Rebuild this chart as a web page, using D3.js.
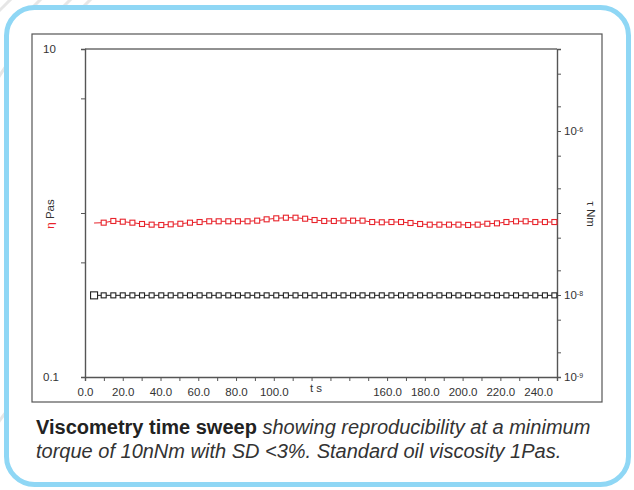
<!DOCTYPE html>
<html>
<head>
<meta charset="utf-8">
<script src="https://cdn.jsdelivr.net/npm/d3@7"></script>
<style>
  html, body { margin: 0; padding: 0; background: #fff; }
  svg { display: block; font-family: "Liberation Sans", Arial, Helvetica, sans-serif; }
</style>
</head>
<body>
<svg id="chart" width="634" height="490"></svg>
<script>
// ---------------- data ----------------
const times = [4.8, 9.9, 15.0, 20.0, 25.1, 30.2, 35.3, 40.4, 45.4, 50.5,
  55.6, 60.7, 65.8, 70.8, 75.9, 81.0, 86.1, 91.2, 96.2, 101.3,
  106.4, 111.5, 116.6, 121.6, 126.7, 131.8, 136.9, 142.0, 147.0, 152.1,
  157.2, 162.3, 167.4, 172.4, 177.5, 182.6, 187.7, 192.8, 197.8, 202.9,
  208.0, 213.1, 218.2, 223.2, 228.3, 233.4, 238.5, 243.6, 248.6];
// viscosity eta (Pa s), left axis
const viscosity = [0.869, 0.873, 0.894, 0.885, 0.873, 0.857, 0.849, 0.845, 0.853, 0.860,
  0.873, 0.881, 0.890, 0.890, 0.890, 0.890, 0.890, 0.898, 0.915, 0.928,
  0.936, 0.936, 0.923, 0.906, 0.894, 0.894, 0.898, 0.898, 0.898, 0.881,
  0.878, 0.881, 0.881, 0.869, 0.857, 0.849, 0.849, 0.849, 0.849, 0.845,
  0.849, 0.860, 0.865, 0.881, 0.890, 0.890, 0.881, 0.881, 0.881];
// torque tau (N m), right axis
const torque = [0.99e-8, 0.99e-8, 0.99e-8, 0.99e-8, 0.99e-8, 0.99e-8, 0.99e-8, 0.99e-8, 0.99e-8, 0.99e-8,
  0.99e-8, 0.99e-8, 0.99e-8, 0.99e-8, 0.99e-8, 0.99e-8, 0.99e-8, 0.99e-8, 0.99e-8, 0.99e-8,
  0.99e-8, 0.99e-8, 0.99e-8, 0.99e-8, 0.99e-8, 0.99e-8, 0.99e-8, 0.99e-8, 0.99e-8, 0.99e-8,
  0.99e-8, 0.99e-8, 0.99e-8, 0.99e-8, 0.99e-8, 0.99e-8, 0.99e-8, 0.99e-8, 0.99e-8, 0.99e-8,
  0.99e-8, 0.99e-8, 0.99e-8, 0.99e-8, 0.99e-8, 0.99e-8, 0.99e-8, 0.99e-8, 0.99e-8];

const xTicks = [0,10,20,30,40,50,60,70,80,90,100,110,120,130,140,150,160,170,180,190,200,210,220,230,240,250];
const xTickLabels = {0:"0.0",20:"20.0",40:"40.0",60:"60.0",80:"80.0",100:"100.0",
  160:"160.0",180:"180.0",200:"200.0",220:"220.0",240:"240.0"};
const xTitle = "t s";
const leftTicks = [0.1, 0.5, 1, 5, 10];
const leftTickLabels = {0.1: "0.1", 10: "10"};
const leftTitleSymbol = "η";
const leftTitleUnit = "Pas";
const rightTicks = [1e-9,2e-9,5e-9,1e-8,2e-8,5e-8,1e-7,2e-7,5e-7,1e-6,2e-6,5e-6,1e-5];
const rightTickLabels = [[1e-9,"-9"],[1e-8,"-8"],[1e-6,"-6"]];
const rightTitleSymbol = "τ";
const rightTitleUnit = "Nm";
const captionBold = "Viscometry time sweep";
const captionLine1 = " showing reproducibility at a minimum";
const captionLine2 = "torque of 10nNm with SD <3%. Standard oil viscosity 1Pas.";

// ---------------- drawing ----------------
const svg = d3.select("#chart");
const RED = "#e8232b", INK = "#333";

// faint decorative stripes outside the frame
const deco = svg.append("g").attr("stroke", "#e6e6e6").attr("stroke-width", 3);
[[-20,30,40,-30],[10,30,70,-30],[40,30,100,-30],[70,20,130,-40],[-30,120,10,60],[-30,460,15,400]].forEach(s=>{
  deco.append("line").attr("x1",s[0]).attr("y1",s[1]).attr("x2",s[2]).attr("y2",s[3]);
});

// rounded blue border
svg.append("rect").attr("x", 6.5).attr("y", 7.5).attr("width", 622).attr("height", 477)
  .attr("rx", 28).attr("fill", "#fff").attr("stroke", "#8fd7f5").attr("stroke-width", 5);

// gray chart frame
svg.append("rect").attr("x", 32).attr("y", 34).attr("width", 570).attr("height", 368)
  .attr("fill", "none").attr("stroke", "#555").attr("stroke-width", 1.2);

const x = d3.scaleLinear().domain([0, 250]).range([85, 557]);
const yL = d3.scaleLog().domain([0.1, 10]).range([377, 49]);
const yR = d3.scaleLog().domain([1e-9, 1e-5]).range([377, 49]);

// plot box top line
svg.append("line").attr("x1", 85).attr("x2", 557).attr("y1", 49).attr("y2", 49)
  .attr("stroke", "#222").attr("stroke-width", 1);

// bottom axis
const gx = svg.append("g").attr("transform", "translate(0,377)")
  .call(d3.axisBottom(x).tickValues(xTicks).tickSize(4).tickPadding(7)
    .tickFormat(d => xTickLabels[d] || ""));
// left axis
const gl = svg.append("g").attr("transform", "translate(85,0)")
  .call(d3.axisLeft(yL).tickValues(leftTicks).tickSize(4)
    .tickFormat(d => leftTickLabels[d] || ""));
gl.selectAll(".tick text").attr("text-anchor", "start").attr("x", 43 - 85);
// right axis
const gr = svg.append("g").attr("transform", "translate(557,0)")
  .call(d3.axisRight(yR).tickValues(rightTicks).tickSize(4).tickPadding(3).tickFormat(""));
gr.selectAll(".tick").each(function(d) {
  const lab = rightTickLabels.find(r => Math.abs(r[0] - d) / d < 1e-6);
  if (!lab) return;
  const t = d3.select(this).select("text");
  t.append("tspan").text("10");
  t.append("tspan").attr("dy", "-0.45em").attr("font-size", 7).text(lab[1]);
});

[gx, gl, gr].forEach(g => {
  g.select(".domain").attr("stroke", "#555").attr("stroke-width", 1.4);
  g.selectAll(".tick line").attr("stroke", "#555").attr("stroke-width", 1);
  g.selectAll("text").attr("font-size", 11.5).attr("fill", INK)
    .attr("font-family", "'Liberation Sans', Arial, sans-serif");
});

// axis titles
svg.append("text").attr("x", 316).attr("y", 392).attr("text-anchor", "middle")
  .attr("font-size", 11.5).attr("fill", INK).text(xTitle);

const lt = svg.append("text").attr("transform", "translate(54,214) rotate(-90)")
  .attr("text-anchor", "middle").attr("font-size", 11.5);
lt.append("tspan").attr("fill", RED).text(leftTitleSymbol);
lt.append("tspan").attr("fill", INK).text(" " + leftTitleUnit);

const rt = svg.append("text").attr("transform", "translate(587,214) rotate(90)")
  .attr("text-anchor", "middle").attr("font-size", 11.5).attr("fill", INK);
rt.append("tspan").text(rightTitleSymbol);
rt.append("tspan").text(" " + rightTitleUnit);

// series
const redData = times.map((t, i) => ({t, v: viscosity[i], i}));
const blackData = times.map((t, i) => ({t, v: torque[i], i}));

svg.append("path").datum(redData)
  .attr("d", d3.line().x(d => x(d.t)).y(d => yL(d.v)))
  .attr("fill", "none").attr("stroke", RED).attr("stroke-width", 1);
svg.append("path").datum(blackData)
  .attr("d", d3.line().x(d => x(d.t)).y(d => yR(d.v)))
  .attr("fill", "none").attr("stroke", "#222").attr("stroke-width", 1);

svg.append("g").selectAll("rect").data(redData.filter(d => d.i > 0)).join("rect")
  .attr("x", d => x(d.t) - 2.5).attr("y", d => yL(d.v) - 2.5)
  .attr("width", 5).attr("height", 5)
  .attr("fill", "#fff").attr("stroke", RED).attr("stroke-width", 1.1);

svg.append("g").selectAll("rect").data(blackData).join("rect")
  .attr("x", d => x(d.t) - (d.i === 0 ? 3.5 : 2.5))
  .attr("y", d => yR(d.v) - (d.i === 0 ? 3.5 : 2.5))
  .attr("width", d => d.i === 0 ? 7 : 5).attr("height", d => d.i === 0 ? 7 : 5)
  .attr("fill", "#fff").attr("stroke", "#222").attr("stroke-width", 1.1);

// caption
const c1 = svg.append("text").attr("x", 36).attr("y", 434).attr("font-size", 20);
c1.append("tspan").attr("font-weight", "bold").attr("fill", "#222").text(captionBold);
c1.append("tspan").attr("font-style", "italic").attr("fill", "#333").text(captionLine1);
svg.append("text").attr("x", 36).attr("y", 458).attr("font-size", 20)
  .attr("font-style", "italic").attr("fill", "#333").text(captionLine2);
</script>
</body>
</html>
